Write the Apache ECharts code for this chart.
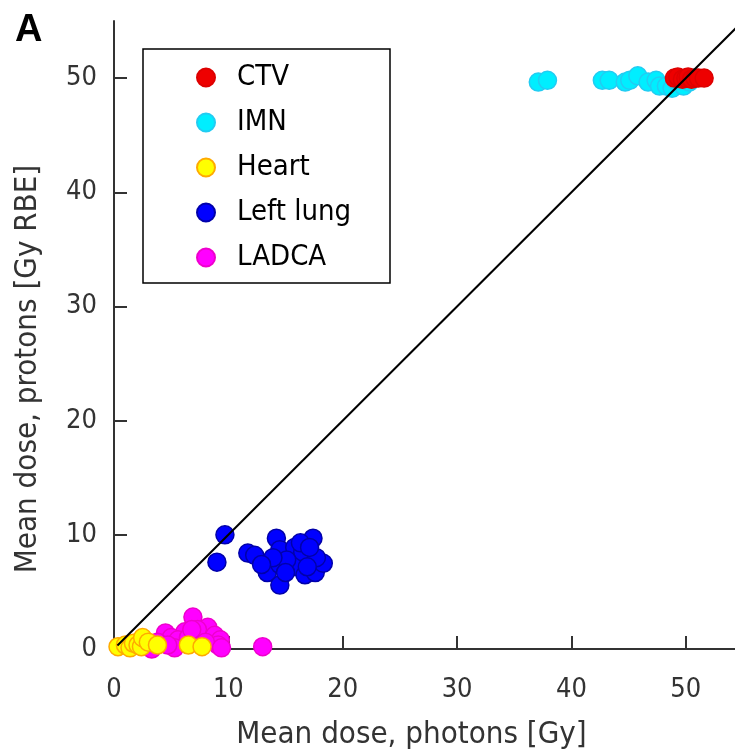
<!DOCTYPE html>
<html>
<head>
<meta charset="utf-8">
<script src="https://cdn.jsdelivr.net/npm/echarts@6/dist/echarts.min.js"></script>
<style>
    html, body { margin: 0; padding: 0; background: #fff; }
    #chart { width: 735px; height: 752px; }
</style>
</head>
<body>
<div id="chart"></div>
<script>
// [photons, protons] mean dose pairs
const ctv = [[49.0, 50.0], [49.3, 50.1], [49.7, 49.9], [50.0, 50.0], [50.2, 50.1], [50.5, 49.9], [50.8, 50.0], [51.1, 50.0], [51.6, 50.0]];
const imn = [[37.1, 49.65], [37.9, 49.8], [42.7, 49.8], [43.3, 49.8], [44.7, 49.65], [45.1, 49.8], [45.8, 50.2], [46.7, 49.65],
    [47.4, 49.8], [47.7, 49.3], [48.3, 49.3], [48.8, 49.1], [49.1, 49.8], [49.8, 49.3], [50.3, 49.65], [50.7, 50.0]];
const heart = [[0.35, 0.2], [1.0, 0.35], [1.4, 0.1], [1.7, 0.5], [2.1, 0.35], [2.4, 0.2], [2.5, 1.0], [3.0, 0.6], [3.8, 0.35], [6.5, 0.35], [7.7, 0.2]];
const leftLung = [[9.7, 10.0], [9.0, 7.6], [11.7, 8.4], [12.3, 8.2], [14.2, 9.7], [14.5, 8.7], [13.4, 6.7], [14.5, 5.6], [14.5, 7.4],
    [15.8, 8.9], [16.0, 7.2], [16.5, 8.5], [17.4, 9.7], [16.7, 6.5], [17.6, 6.7], [18.3, 7.5], [17.7, 8.0], [15.1, 7.8],
    [13.9, 8.0], [16.3, 9.3], [17.1, 8.9], [16.9, 7.2], [15.0, 6.7], [12.9, 7.4]];
const ladca = [[6.9, 2.8], [8.2, 1.9], [7.3, 1.7], [6.2, 1.5], [8.8, 1.2], [9.3, 0.8], [4.5, 1.4], [5.0, 1.0], [5.6, 0.8], [3.8, 0.6],
    [9.1, 0.35], [8.0, 0.6], [6.5, 1.0], [5.3, 0.1], [3.3, 0.0], [6.8, 1.7], [13.0, 0.2], [9.4, 0.1], [4.7, 0.35]];
const identity = [[0.3, 0.3], [55, 55]];
const ticks = [0, 10, 20, 30, 40, 50];

const font = '"DejaVu Sans Condensed", "Liberation Sans Narrow", sans-serif';
const axisColor = '#333';

function dots(name, data, fill, edge, z) {
    return {
        name: name,
        type: 'scatter',
        data: data,
        symbolSize: 18,
        z: z,
        itemStyle: { color: fill, borderColor: edge, borderWidth: 1.5, opacity: 1 }
    };
}

const myChart = echarts.init(document.getElementById('chart'));
const option = {
    animation: false,
    title: {
        text: 'A',
        left: 10,
        top: 7,
        textStyle: { fontSize: 38, fontWeight: 'bold', color: '#000', fontFamily: 'Liberation Sans, sans-serif' }
    },
    graphic: [
        {
            type: 'rect',
            shape: { x: 143, y: 49, width: 247, height: 234 },
            style: { fill: '#fff', stroke: '#000', lineWidth: 1.5 },
            z: 10
        }
    ],
    legend: {
        orient: 'vertical',
        left: 196,
        top: 63,
        padding: 0,
        itemWidth: 18,
        itemHeight: 18,
        itemGap: 16,
        z: 20,
        data: ['CTV', 'IMN', 'Heart', 'Left lung', 'LADCA'],
        textStyle: { fontSize: 29, color: '#000', fontFamily: font, padding: [0, 0, 0, 17] }
    },
    grid: { left: 114, right: 0, top: 21, bottom: 103, containLabel: false, outerBoundsMode: 'none' },
    xAxis: {
        type: 'value',
        min: 0,
        max: 54.3,
        interval: 10,
        name: 'Mean dose, photons [Gy]',
        nameLocation: 'middle',
        nameGap: 70,
        nameTextStyle: { fontSize: 31, color: '#333', fontFamily: font, padding: [0, 26, 0, 0] },
        splitLine: { show: false },
        axisLine: { onZero: false, lineStyle: { color: axisColor, width: 2 } },
        axisTick: { inside: true, length: 13, customValues: ticks, lineStyle: { color: axisColor, width: 2 } },
        axisLabel: { customValues: ticks, margin: 27, fontSize: 27, color: '#333', fontFamily: font }
    },
    yAxis: {
        type: 'value',
        min: 0,
        max: 55,
        interval: 10,
        name: 'Mean dose, protons [Gy RBE]',
        nameLocation: 'middle',
        nameGap: 71,
        nameTextStyle: { fontSize: 31, color: '#333', fontFamily: font, padding: [0, 68, 0, 0] },
        splitLine: { show: false },
        axisLine: { onZero: false, lineStyle: { color: axisColor, width: 2 } },
        axisTick: { inside: true, length: 13, customValues: ticks, lineStyle: { color: axisColor, width: 2 } },
        axisLabel: { customValues: ticks, margin: 17, fontSize: 27, color: '#333', fontFamily: font }
    },
    series: [
        dots('CTV', ctv, '#ee0000', '#dd0000', 4),
        dots('IMN', imn, '#00eeff', '#22ccf2', 3),
        dots('Heart', heart, '#ffff00', '#ffaa00', 4),
        dots('Left lung', leftLung, '#0000ff', '#0000aa', 3),
        dots('LADCA', ladca, '#ff00ff', '#ee00cc', 3),
        {
            type: 'line',
            data: identity,
            symbol: 'none',
            z: 5,
            silent: true,
            lineStyle: { color: '#000', width: 2 }
        }
    ]
};
myChart.setOption(option);
</script>
</body>
</html>
